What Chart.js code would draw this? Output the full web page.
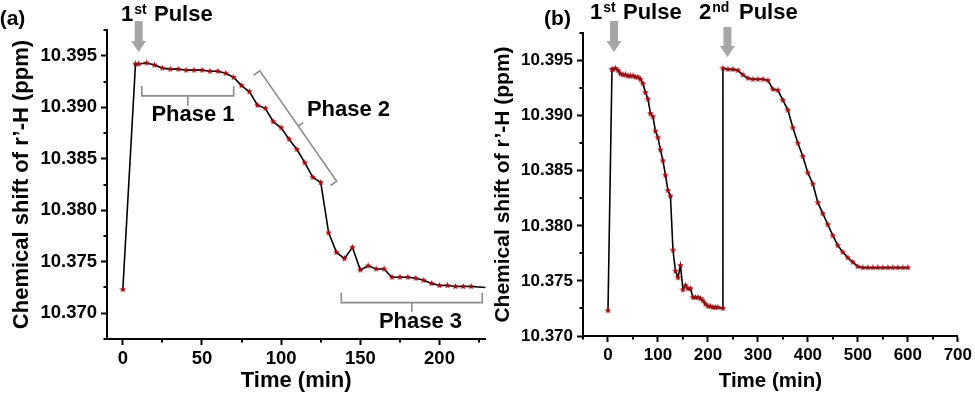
<!DOCTYPE html>
<html>
<head>
<meta charset="utf-8">
<title>Chemical shift of r’-H vs time</title>
<script src="https://cdn.jsdelivr.net/npm/chart.js@4.4.1/dist/chart.umd.min.js"></script>
<style>
  html, body { margin: 0; padding: 0; background: #fff; }
  #wrap { position: relative; width: 975px; height: 394px; overflow: hidden; }
  .panel { position: absolute; top: 0; height: 394px; }
  #panelA { left: 0; width: 490px; }
  #panelB { left: 490px; width: 485px; }
</style>
</head>
<body>
<div id="wrap">
  <div class="panel" id="panelA"><canvas id="chartA"></canvas></div>
  <div class="panel" id="panelB"><canvas id="chartB"></canvas></div>
</div>
<script>
// first pulse
const timeFirst = [0, 8, 10, 15, 20, 25, 30, 35, 40, 45, 50, 55, 60, 65, 70, 75, 80, 85, 90, 95,
  100, 105, 110, 115, 120, 125, 130, 135, 140, 145, 150, 155, 160, 165, 170, 175, 180, 185, 190, 195,
  200, 205, 210, 215, 220, 230];
const shiftFirst = [10.3723, 10.3942, 10.3942, 10.3943, 10.3941, 10.3938, 10.3937, 10.3937, 10.3936, 10.3936,
  10.3936, 10.3935, 10.3935, 10.3933, 10.3929, 10.3921, 10.3915, 10.3902, 10.3899, 10.3886,
  10.3880, 10.3869, 10.3859, 10.3846, 10.3832, 10.3827, 10.3778, 10.3759, 10.3753, 10.3764,
  10.3742, 10.3746, 10.3743, 10.3743, 10.3735, 10.3735, 10.3735, 10.3734, 10.3732, 10.3729,
  10.3727, 10.3727, 10.3726, 10.3726, 10.3726, 10.3725];

// second pulse
const timeSecond = [230, 240, 250, 260, 270, 280, 290, 300, 310, 320, 330, 340, 350, 360, 370, 380, 390,
  400, 410, 420, 430, 440, 450, 460, 470, 480, 490, 500, 510, 520, 530, 540, 550, 560, 570, 580, 590, 600];
const shiftSecond = [10.3943, 10.3942, 10.3942, 10.3941, 10.3937, 10.3934, 10.3933, 10.3933, 10.3933, 10.3932,
  10.3924, 10.3923, 10.3914, 10.3905, 10.3889, 10.3875, 10.3863, 10.3848, 10.3838, 10.3821,
  10.3811, 10.3801, 10.3791, 10.3782, 10.3776, 10.3771, 10.3767, 10.3763, 10.3762, 10.3762,
  10.3762, 10.3762, 10.3762, 10.3762, 10.3762, 10.3762, 10.3762, 10.3762];

// tick labels
const xTicksA = [0, 50, 100, 150, 200];
const xTicksB = [0, 100, 200, 300, 400, 500, 600, 700];
const yTicksA = [10.370, 10.375, 10.380, 10.385, 10.390, 10.395];
const yTicksB = [10.370, 10.375, 10.380, 10.385, 10.390, 10.395];

const yTitle = 'Chemical shift of r’-H (ppm)';
const xTitle = 'Time (min)';

Chart.defaults.font.family = "'Liberation Sans', Arial, sans-serif";
Chart.defaults.color = '#000';

// 빨간 별 마커
function makeStar(size, color) {
  const c = document.createElement('canvas');
  c.width = size; c.height = size;
  const g = c.getContext('2d');
  const r = size / 2, ri = r * 0.45;
  g.beginPath();
  for (let i = 0; i < 10; i++) {
    const rad = i % 2 ? ri : r;
    const a = -Math.PI / 2 + i * Math.PI / 5;
    g.lineTo(r + rad * Math.cos(a), r + rad * Math.sin(a));
  }
  g.closePath();
  g.fillStyle = color;
  g.fill();
  return c;
}
const star = makeStar(7, '#9a0f14');

const toPoints = (ts, ys) => ts.map((t, i) => ({ x: t, y: ys[i] }));

// 보조 눈금 (minor ticks)
const minorTicks = {
  id: 'minorTicks',
  afterDraw(chart, args, opts) {
    const { ctx, chartArea } = chart;
    const xs = chart.scales.x, ys = chart.scales.y;
    ctx.save();
    ctx.strokeStyle = '#000';
    ctx.lineWidth = 2;
    ctx.beginPath();
    for (let i = 0; ; i++) {
      const v = opts.xStart + i * opts.xStep;
      if (v > xs.max + 1e-9) break;
      const px = Math.round(xs.getPixelForValue(v));
      ctx.moveTo(px, chartArea.bottom);
      ctx.lineTo(px, chartArea.bottom + 3.5);
    }
    for (let i = 0; ; i++) {
      const v = opts.yStart + i * opts.yStep;
      if (v > ys.max + 1e-9) break;
      const py = Math.round(ys.getPixelForValue(v));
      ctx.moveTo(chartArea.left, py);
      ctx.lineTo(chartArea.left - 3.5, py);
    }
    ctx.stroke();
    ctx.restore();
  }
};

function drawArrow(ctx, x, top, tip) {
  ctx.fillStyle = '#a6a6a6';
  ctx.fillRect(x - 4, top, 8, tip - top - 10);
  ctx.beginPath();
  ctx.moveTo(x - 7.5, tip - 11);
  ctx.lineTo(x + 7.5, tip - 11);
  ctx.lineTo(x, tip);
  ctx.closePath();
  ctx.fill();
}

function drawPulse(ctx, x, base, num, sup, pulseX) {
  ctx.fillStyle = '#000';
  ctx.textAlign = 'left';
  ctx.textBaseline = 'alphabetic';
  ctx.font = "bold 22px 'Liberation Sans', Arial, sans-serif";
  ctx.fillText(num, x, base);
  const w = ctx.measureText(num).width;
  ctx.fillText('Pulse', pulseX, base);
  ctx.font = "bold 14px 'Liberation Sans', Arial, sans-serif";
  ctx.fillText(sup, x + w + 1, base - 7);
}

function label(ctx, text, x, y, size) {
  ctx.fillStyle = '#000';
  ctx.font = 'bold ' + size + "px 'Liberation Sans', Arial, sans-serif";
  ctx.textAlign = 'center';
  ctx.textBaseline = 'middle';
  ctx.fillText(text, x, y);
}

// 괄호 (bracket): p1→p2, 양끝은 n 방향, 가운데는 반대 방향
function bracket(ctx, p1, p2, endLen, midLen) {
  const dx = p2.x - p1.x, dy = p2.y - p1.y;
  const L = Math.hypot(dx, dy);
  const nx = dy / L, ny = -dx / L;
  const mx = (p1.x + p2.x) / 2, my = (p1.y + p2.y) / 2;
  ctx.strokeStyle = '#8c8c8c';
  ctx.lineWidth = 1.6;
  ctx.beginPath();
  ctx.moveTo(p1.x + nx * endLen, p1.y + ny * endLen);
  ctx.lineTo(p1.x, p1.y);
  ctx.lineTo(p2.x, p2.y);
  ctx.lineTo(p2.x + nx * endLen, p2.y + ny * endLen);
  ctx.moveTo(mx, my);
  ctx.lineTo(mx - nx * midLen, my - ny * midLen);
  ctx.stroke();
}

const notesA = {
  id: 'notesA',
  afterDraw(chart) {
    const { ctx } = chart;
    const xs = chart.scales.x, ys = chart.scales.y;
    const P = (t, v) => ({ x: xs.getPixelForValue(t), y: ys.getPixelForValue(v) });
    ctx.save();
    label(ctx, '(a)', 12.5, 19, 21);
    drawPulse(ctx, 121, 21, '1', 'st', 154);
    drawArrow(ctx, xs.getPixelForValue(10), 21, 52);
    bracket(ctx, P(12, 10.3911), P(70, 10.3911), 10, 10);
    bracket(ctx, P(86.5, 10.39354), P(135.1, 10.38282), -7.5, -6);
    bracket(ctx, P(138, 10.37103), P(227, 10.37103), 10, 9);
    label(ctx, 'Phase 1', 193, 115, 22);
    label(ctx, 'Phase 2', 348.5, 110, 22);
    label(ctx, 'Phase 3', 420.5, 322, 22);
    ctx.restore();
  }
};

const notesB = {
  id: 'notesB',
  afterDraw(chart) {
    const { ctx } = chart;
    const xs = chart.scales.x;
    ctx.save();
    label(ctx, '(b)', 67.5, 19, 21);
    drawPulse(ctx, 100, 18.5, '1', 'st', 133);
    drawPulse(ctx, 209, 18.5, '2', 'nd', 249);
    drawArrow(ctx, xs.getPixelForValue(12), 21, 52);
    drawArrow(ctx, xs.getPixelForValue(239), 27, 57);
    ctx.restore();
  }
};

function axisX(min, max, ticks, height, fontSize, titleSize) {
  return {
    type: 'linear', min: min, max: max,
    afterBuildTicks: s => { s.ticks = ticks.map(v => ({ value: v })); },
    afterFit: s => { s.height = height; },
    grid: { drawOnChartArea: false, drawTicks: true, tickLength: 6, tickWidth: 2, tickColor: '#000' },
    border: { display: true, color: '#000', width: 2 },
    ticks: { maxRotation: 0, autoSkip: false, padding: 3, color: '#000', font: { size: fontSize, weight: 'bold' } },
    title: { display: true, text: xTitle, color: '#000', font: { size: titleSize, weight: 'bold' }, padding: { top: 0, bottom: 0 } }
  };
}

function axisY(min, max, ticks, width, fontSize, titleSize, titlePad) {
  return {
    type: 'linear', min: min, max: max,
    afterBuildTicks: s => { s.ticks = ticks.map(v => ({ value: v })); },
    afterFit: s => { s.width = width; },
    grid: { drawOnChartArea: false, drawTicks: true, tickLength: 6, tickWidth: 2, tickColor: '#000' },
    border: { display: true, color: '#000', width: 2 },
    ticks: { autoSkip: false, padding: 4, color: '#000', font: { size: fontSize, weight: 'bold' },
      callback: v => Number(v).toFixed(3) },
    title: { display: true, text: yTitle, color: '#000', font: { size: titleSize, weight: 'bold' }, padding: { top: titlePad, bottom: 0 } }
  };
}

function lineSet(points, maxX) {
  return {
    data: points,
    borderColor: '#000',
    borderWidth: 1.6,
    tension: 0,
    clip: 0,
    pointStyle: star,
    pointRadius: c => (c.raw && c.raw.x > maxX ? 0 : 3),
    pointHoverRadius: 0
  };
}

new Chart(document.getElementById('chartA'), {
  type: 'line',
  data: { datasets: [lineSet(toPoints(timeFirst, shiftFirst), 225)] },
  options: {
    responsive: true, maintainAspectRatio: false, animation: false, events: [],
    layout: { padding: { left: 0, right: 3, top: 30, bottom: 0 } },
    plugins: {
      legend: { display: false }, tooltip: { enabled: false },
      minorTicks: { xStart: 25, xStep: 50, yStart: 10.3675, yStep: 0.005 }
    },
    scales: {
      x: axisX(-10, 229, xTicksA, 55, 18.5, 22),
      y: axisY(10.3675, 10.3975, yTicksA, 107, 18.5, 22, 9)
    }
  },
  plugins: [minorTicks, notesA]
});

new Chart(document.getElementById('chartB'), {
  type: 'line',
  data: { datasets: [lineSet(toPoints(timeFirst.concat(timeSecond), shiftFirst.concat(shiftSecond)), 9999)] },
  options: {
    responsive: true, maintainAspectRatio: false, animation: false, events: [],
    layout: { padding: { left: 0, right: 16, top: 33, bottom: 0 } },
    plugins: {
      legend: { display: false }, tooltip: { enabled: false },
      minorTicks: { xStart: -50, xStep: 100, yStart: 10.3725, yStep: 0.005 }
    },
    scales: {
      x: axisX(-50, 700, xTicksB, 58, 17, 20.5),
      y: axisY(10.370, 10.3975, yTicksB, 93, 17, 21, 1)
    }
  },
  plugins: [minorTicks, notesB]
});
</script>
</body>
</html>
